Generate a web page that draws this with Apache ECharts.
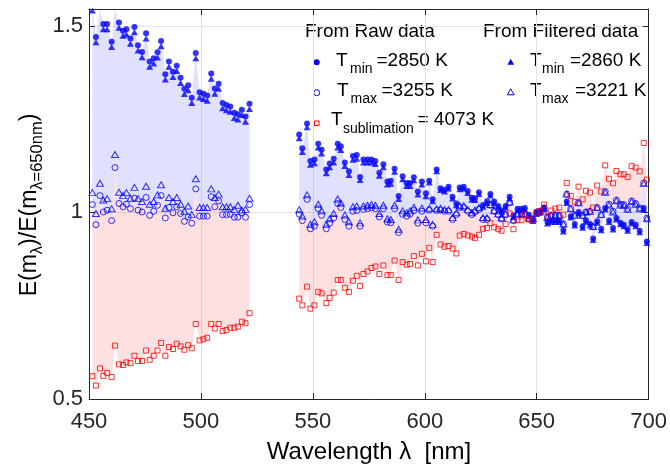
<!DOCTYPE html>
<html>
<head>
<meta charset="utf-8">
<script src="https://cdn.jsdelivr.net/npm/echarts@6/dist/echarts.min.js"></script>
<style>
  html, body { margin: 0; padding: 0; background: #fff; }
  #box { width: 670px; height: 468px; }
</style>
</head>
<body>
<div id="box"></div>
<script>
// wavelengths (nm), two measured segments
const wl1 = [451.5,453.1,454.9,456.4,458.1,460.1,461.6,463.4,465.2,466.7,468.5,470.3,471.9,473.7,475.5,477.1,478.9,480.6,482.2,484.1,485.7,487.5,489.2,490.9,492.6,494.3,495.9,497.7,499.4,501.1,502.8,504.6,506.2,507.9,509.7,511.4,513.1,514.9,516.5,518.3,519.9,521.7];
const wl2 = [543.9,545.3,547.4,548.9,550.7,552.4,553.9,556.0,557.5,559.3,561.1,562.5,564.3,566.1,567.9,569.6,571.1,572.6,574.4,576.2,577.9,579.7,581.5,583.3,584.8,586.5,588.3,590.1,591.9,593.4,595.1,596.9,598.7,600.5,602.0,603.5,605.3,607.0,608.8,610.6,612.4,614.1,615.6,617.4,619.2,621.0,622.4,624.2,626.0,627.8,629.3,631.0,632.8,634.3,636.1,637.9,639.6,641.4,643.2,644.7,646.5,648.3,650.0,651.5,653.3,654.8,656.5,658.3,660.1,661.9,663.4,665.2,667.0,668.7,670.5,672.0,673.8,675.2,677.0,678.8,680.6,682.3,684.1,685.6,687.4,688.9,690.6,692.4,694.2,696.0,697.8,699.2];

// raw data, T_min = 2850 K
const rawMin1 = [1.555,1.470,1.580,1.505,1.505,1.457,1.600,1.509,1.487,1.491,1.466,1.497,1.448,1.430,1.480,1.404,1.413,1.429,1.459,1.370,1.404,1.377,1.393,1.361,1.331,1.341,1.307,1.427,1.322,1.318,1.313,1.372,1.332,1.345,1.293,1.288,1.284,1.267,1.263,1.275,1.257,1.291];
const rawMin2 = [1.209,1.172,1.238,1.138,1.142,1.184,1.168,1.115,1.131,1.144,
  1.184,1.177,1.134,1.110,1.151,1.154,1.095,1.142,1.142,1.142,
  1.138,1.106,1.129,1.083,1.085,1.117,1.044,1.097,1.079,1.079,
  1.094,1.056,1.083,1.051,1.085,1.035,1.115,1.065,1.061,1.069,
  1.042,1.024,1.067,1.069,1.057,1.039,1.038,1.054,1.020,1.030,
  1.049,1.029,1.017,1.006,1.017,1.042,0.992,1.010,1.010,1.012,
  0.994,0.981,1.000,1.003,1.012,0.974,0.978,0.978,0.978,0.953,
  1.029,0.990,0.969,1.001,0.963,0.979,0.969,0.930,0.976,0.956,
  1.012,0.978,0.958,0.985,0.972,0.967,0.955,0.974,0.967,0.951,
  1.012,0.922];

// raw data, T_max = 3255 K
const rawMax1 = [1.021,0.967,1.045,1.001,1.006,0.978,1.120,1.024,1.015,1.022,1.010,1.038,1.006,1.001,1.040,0.992,1.003,1.019,1.045,0.985,1.013,0.999,1.015,0.997,0.976,0.988,0.971,1.063,0.990,0.990,0.990,1.042,1.015,1.031,0.994,0.994,0.995,0.987,0.987,0.999,0.987,1.021];
const rawMax2 = [0.995,0.978,1.035,0.956,0.963,1.010,0.992,0.956,0.971,0.985,
  1.024,1.013,0.981,0.963,1.003,1.005,0.963,1.008,1.010,1.012,
  1.010,0.988,1.010,0.974,0.972,1.010,0.946,0.995,0.990,0.995,
  1.005,0.971,1.003,0.972,1.006,0.963,1.005,1.006,1.003,1.003,
  0.981,0.994,1.013,1.013,1.003,0.994,1.001,1.008,0.981,0.981,
  1.019,1.003,0.994,0.983,0.994,1.026,0.978,0.994,0.994,0.994,
  0.983,0.981,1.001,1.003,1.012,0.987,0.992,0.992,0.992,0.969,
  1.049,1.010,0.992,1.026,0.992,1.001,1.003,0.962,1.013,0.994,
  1.056,1.022,1.003,1.033,1.022,1.021,1.010,1.031,1.024,1.012,
  1.079,0.985];

// T_sublimation = 4073 K
const subl1 = [0.561,0.536,0.582,0.562,0.570,0.559,0.643,0.593,0.591,0.598,0.596,0.616,0.602,0.602,0.630,0.605,0.616,0.630,0.650,0.616,0.639,0.634,0.648,0.641,0.632,0.644,0.636,0.701,0.657,0.660,0.664,0.701,0.689,0.701,0.682,0.685,0.691,0.691,0.694,0.707,0.703,0.730];
const subl2 = [0.769,0.751,0.801,0.742,0.751,0.787,0.783,0.757,0.771,0.785,
  0.819,0.819,0.798,0.787,0.817,0.830,0.803,0.835,0.842,0.851,
  0.855,0.835,0.858,0.832,0.832,0.871,0.819,0.867,0.860,0.862,
  0.883,0.858,0.889,0.869,0.905,0.867,0.940,0.914,0.908,0.910,
  0.903,0.890,0.938,0.942,0.938,0.935,0.931,0.940,0.956,0.958,
  0.971,0.960,0.955,0.951,0.969,0.997,0.955,0.979,0.979,0.994,
  0.981,0.978,1.000,1.003,1.021,0.990,1.005,1.010,1.013,0.994,
  1.079,1.044,1.028,1.069,1.035,1.058,1.053,1.013,1.072,1.056,
  1.126,1.090,1.078,1.111,1.102,1.102,1.095,1.124,1.120,1.110,
  1.186,1.088];

// filtered data, T_min = 2860 K
const filtMin1 = [1.541,1.456,1.566,1.491,1.491,1.443,1.586,1.495,1.473,1.477,1.452,1.483,1.434,1.416,1.466,1.390,1.399,1.415,1.445,1.356,1.390,1.363,1.379,1.347,1.317,1.327,1.293,1.413,1.308,1.304,1.299,1.358,1.318,1.331,1.279,1.274,1.270,1.253,1.249,1.261,1.243,1.277];
const filtMin2 = [1.199,1.162,1.228,1.128,1.132,1.174,1.158,1.105,1.121,1.134,
  1.174,1.167,1.124,1.100,1.141,1.144,1.087,1.134,1.134,1.134,
  1.130,1.098,1.121,1.075,1.077,1.109,1.036,1.089,1.071,1.071,
  1.086,1.048,1.075,1.043,1.080,1.030,1.110,1.060,1.056,1.064,
  1.037,1.019,1.062,1.064,1.052,1.034,1.033,1.049,1.015,1.025,
  1.045,1.025,1.013,1.002,1.013,1.038,0.988,1.006,1.006,1.008,
  0.990,0.977,0.996,0.999,1.008,0.970,0.974,0.974,0.974,0.949,
  1.025,0.986,0.965,0.997,0.959,0.975,0.965,0.926,0.972,0.952,
  1.008,0.974,0.954,0.981,0.968,0.963,0.951,0.970,0.963,0.947,
  1.008,0.918];

// filtered data, T_max = 3221 K
const filtMax1 = [1.053,0.997,1.078,1.033,1.037,1.010,1.155,1.054,1.045,1.053,1.038,1.067,1.037,1.029,1.070,1.022,1.029,1.047,1.074,1.011,1.040,1.029,1.040,1.022,1.003,1.017,0.994,1.090,1.013,1.013,1.013,1.063,1.040,1.049,1.015,1.015,1.015,1.008,1.019,1.006,1.008,1.038];
const filtMax2 = [1.007,0.990,1.047,0.968,0.975,1.022,1.004,0.968,0.983,0.997,
  1.036,1.025,0.993,0.975,1.015,1.017,0.972,1.017,1.019,1.021,
  1.019,0.997,1.019,0.983,0.981,1.019,0.955,1.004,0.999,1.004,
  1.014,0.980,1.012,0.981,1.011,0.968,1.010,1.011,1.008,1.008,
  0.986,0.999,1.018,1.018,1.008,0.999,1.006,1.013,0.986,0.986,
  1.021,1.005,0.996,0.985,0.996,1.028,0.980,0.996,0.996,0.996,
  0.985,0.983,1.001,1.003,1.012,0.987,0.992,0.992,0.992,0.969,
  1.049,1.010,0.992,1.026,0.992,1.001,1.003,0.962,1.013,0.994,
  1.054,1.020,1.001,1.031,1.020,1.019,1.008,1.029,1.022,1.010,
  1.077,0.983];

const xTicks = [450, 500, 550, 600, 650, 700];
const yTicks = [0.5, 1, 1.5];

const X_MIN = 450, X_MAX = 700, Y_MIN = 0.5, Y_MAX = 1.545;
const FONT = "'Liberation Sans', Arial, Helvetica, sans-serif";
const AXIS_COLOR = '#262626';
const BLUE = '#0000ff';
const RED = '#ff0000';

const pairs = (xs, ys) => xs.map((x, i) => [x, ys[i]]);
const both = (a1, a2) => pairs(wl1, a1).concat(pairs(wl2, a2));
const clampY = v => Math.max(Y_MIN, Math.min(Y_MAX, v));

// shaded band between two curves, drawn through the axis scales
function band(xs, lo, hi, color) {
  return {
    type: 'custom',
    coordinateSystem: 'cartesian2d',
    silent: true,
    z: 1,
    data: [[xs[0], clampY(lo[0])]],
    encode: { x: 0, y: 1 },
    renderItem: function (params, api) {
      const pts = [];
      for (let i = 0; i < xs.length; i++) pts.push(api.coord([xs[i], clampY(hi[i])]));
      for (let i = xs.length - 1; i >= 0; i--) pts.push(api.coord([xs[i], clampY(lo[i])]));
      return { type: 'polygon', shape: { points: pts }, style: { fill: color } };
    }
  };
}

// text measuring for sub-scripted labels
const ctx = document.createElement('canvas').getContext('2d');
function textWidth(s, size) {
  ctx.font = size + 'px ' + FONT;
  return ctx.measureText(s).width;
}
function txt(x, y, s, size, align) {
  return {
    type: 'text', x: x, y: y, silent: true,
    style: { text: s, fontSize: size, fontFamily: FONT, fill: '#000', align: align || 'left', verticalAlign: 'middle' }
  };
}

// y axis title: E(m_λ)/E(m_{λ=650nm}), rotated
const yParts = [['E(m', 23, 0], ['λ', 16.5, 7], [')/E(m', 23, 0], ['λ=650nm', 16.5, 7], [')', 23, 0]];
let yTotal = 0;
yParts.forEach(p => { yTotal += textWidth(p[0], p[1]); });
let yPos = -yTotal / 2;
const yTitleChildren = yParts.map(p => {
  const el = txt(yPos, p[2], p[0], p[1]);
  yPos += textWidth(p[0], p[1]);
  return el;
});

const LEG = 19, SUB = 14;
const legend = [
  txt(305, 32, 'From Raw data', LEG),
  { type: 'circle', silent: true, shape: { cx: 316.7, cy: 62.3, r: 3 }, style: { fill: BLUE } },
  txt(336, 60.5, 'T', LEG), txt(350, 69.5, 'min', SUB), txt(376.5, 60.5, '=2850 K', LEG),
  { type: 'circle', silent: true, shape: { cx: 316.7, cy: 92.7, r: 3 }, style: { fill: 'none', stroke: BLUE, lineWidth: 1 } },
  txt(337, 90.5, 'T', LEG), txt(350.5, 99.5, 'max', SUB), txt(381.5, 90.5, '=3255 K', LEG),
  { type: 'rect', silent: true, shape: { x: 314.5, y: 121, width: 4.5, height: 4.5 }, style: { fill: 'none', stroke: RED, lineWidth: 1 } },
  txt(331, 119.5, 'T', LEG), txt(343, 129, 'sublimation', SUB), txt(417.5, 119.5, '= 4073 K', LEG),
  txt(483, 32, 'From Filtered data', LEG),
  { type: 'polygon', silent: true, shape: { points: [[510.7, 58.8], [507.3, 64.8], [514.1, 64.8]] }, style: { fill: BLUE } },
  txt(530, 60.5, 'T', LEG), txt(542, 69.5, 'min', SUB), txt(570, 60.5, '=2860 K', LEG),
  { type: 'polygon', silent: true, shape: { points: [[510.7, 88.8], [507.3, 94.8], [514.1, 94.8]] }, style: { fill: 'none', stroke: BLUE, lineWidth: 1 } },
  txt(530, 90.5, 'T', LEG), txt(542, 99.5, 'max', SUB), txt(575, 90.5, '=3221 K', LEG)
];

const openStyle = color => ({ color: 'rgba(0,0,0,0)', borderColor: color, borderWidth: 1 });

const chart = echarts.init(document.getElementById('box'), null, { renderer: 'canvas' });
chart.setOption({
  animation: false,
  backgroundColor: '#fff',
  grid: { left: 89, right: 19, top: 9, bottom: 69, containLabel: false },
  xAxis: [
    {
      type: 'value', min: X_MIN, max: X_MAX, interval: 50, position: 'bottom',
      axisLine: { show: true, lineStyle: { color: AXIS_COLOR, width: 1 } },
      axisTick: { show: true, inside: true, length: 6, lineStyle: { color: AXIS_COLOR } },
      axisLabel: { show: true, fontSize: 22, fontFamily: FONT, color: AXIS_COLOR, margin: 12,
        formatter: v => (xTicks.indexOf(v) >= 0 ? String(v) : '') },
      splitLine: { show: true, lineStyle: { color: '#e3e3e3', width: 1 } }
    },
    {
      type: 'value', min: X_MIN, max: X_MAX, interval: 50, position: 'top',
      axisLine: { show: true, lineStyle: { color: AXIS_COLOR, width: 1 } },
      axisTick: { show: true, inside: true, length: 6, lineStyle: { color: AXIS_COLOR } },
      axisLabel: { show: false }, splitLine: { show: false }
    }
  ],
  yAxis: [
    {
      type: 'value', min: Y_MIN, max: Y_MAX, interval: 0.5, position: 'left',
      axisLine: { show: true, lineStyle: { color: AXIS_COLOR, width: 1 } },
      axisTick: { show: true, inside: true, length: 6, lineStyle: { color: AXIS_COLOR } },
      axisLabel: { show: true, fontSize: 22, fontFamily: FONT, color: AXIS_COLOR, margin: 6, showMaxLabel: false,
        formatter: v => (yTicks.indexOf(v) >= 0 ? String(v) : '') },
      splitLine: { show: true, lineStyle: { color: '#e3e3e3', width: 1 } }
    },
    {
      type: 'value', min: Y_MIN, max: Y_MAX, interval: 0.5, position: 'right',
      axisLine: { show: true, lineStyle: { color: AXIS_COLOR, width: 1 } },
      axisTick: { show: true, inside: true, length: 6, lineStyle: { color: AXIS_COLOR } },
      axisLabel: { show: false }, splitLine: { show: false }
    }
  ],
  series: [
    band(wl1, rawMax1, rawMin1, 'rgba(0,0,255,0.12)'),
    band(wl2, rawMax2, rawMin2, 'rgba(0,0,255,0.12)'),
    band(wl1, subl1, rawMax1, 'rgba(255,0,0,0.12)'),
    band(wl2, subl2, rawMax2, 'rgba(255,0,0,0.12)'),
    {
      name: 'Filtered Tmin', type: 'scatter', z: 3, clip: true,
      data: both(filtMin1, filtMin2), symbol: 'triangle', symbolSize: [7, 6],
      itemStyle: { color: BLUE }
    },
    {
      name: 'Raw Tmin', type: 'scatter', z: 4, clip: true,
      data: both(rawMin1, rawMin2), symbol: 'circle', symbolSize: 6,
      itemStyle: { color: BLUE }
    },
    {
      name: 'Filtered Tmax', type: 'scatter', z: 3, clip: true,
      data: both(filtMax1, filtMax2), symbol: 'triangle', symbolSize: [7, 6],
      itemStyle: openStyle(BLUE)
    },
    {
      name: 'Raw Tmax', type: 'scatter', z: 4, clip: true,
      data: both(rawMax1, rawMax2), symbol: 'circle', symbolSize: 6,
      itemStyle: openStyle(BLUE)
    },
    {
      name: 'Tsublimation', type: 'scatter', z: 4, clip: true,
      data: both(subl1, subl2), symbol: 'rect', symbolSize: 5,
      itemStyle: openStyle(RED)
    }
  ],
  graphic: [
    { type: 'group', x: 30, y: 205, rotation: Math.PI / 2, children: yTitleChildren },
    txt(369, 452, 'Wavelength λ  [nm]', 24, 'center')
  ].concat(legend)
});
</script>
</body>
</html>
